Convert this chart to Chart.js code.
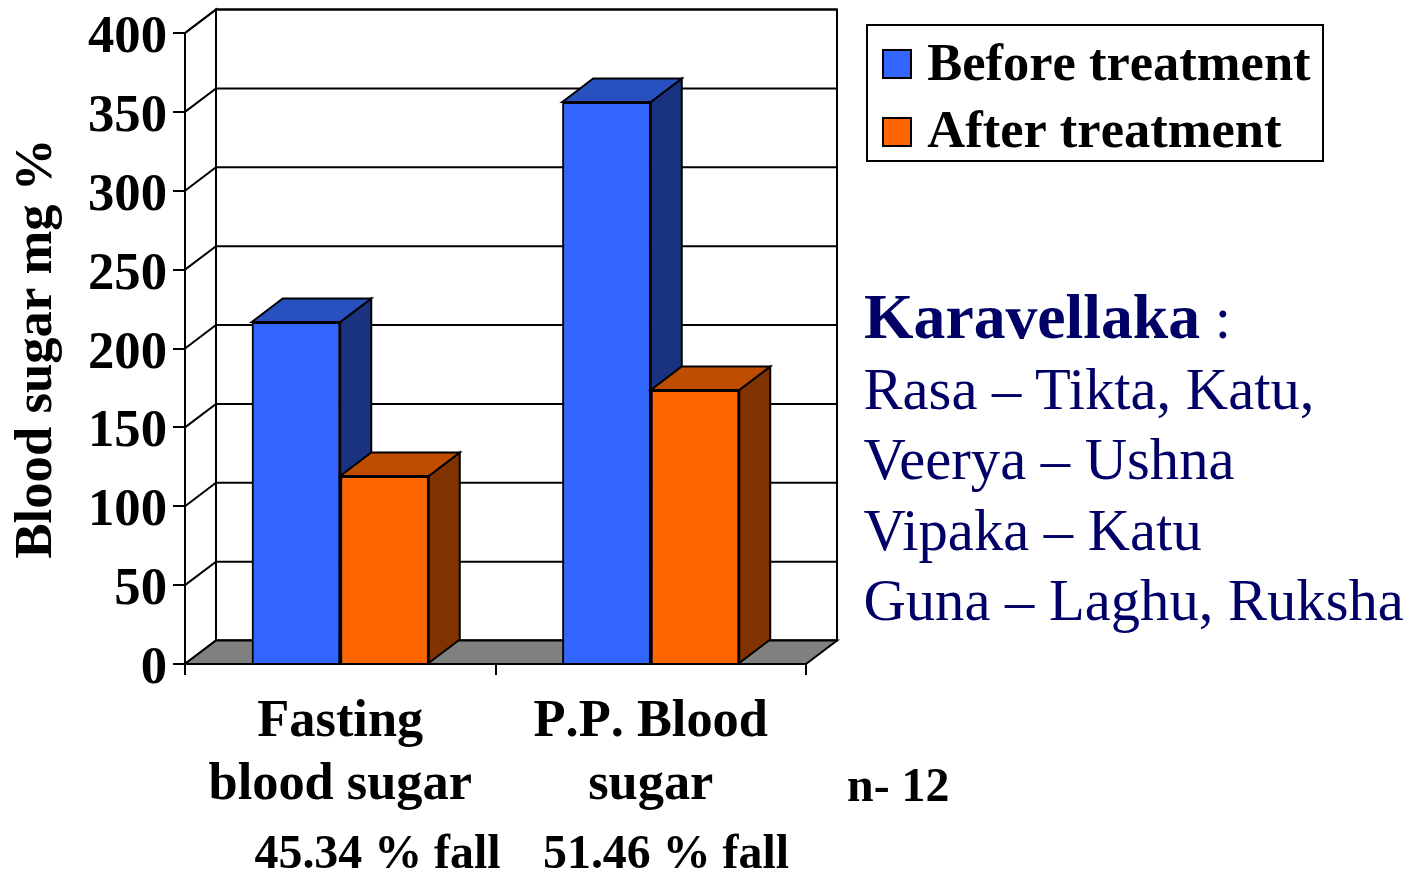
<!DOCTYPE html>
<html><head><meta charset="utf-8">
<style>
html,body{margin:0;padding:0;background:#fff;width:1414px;height:872px;overflow:hidden}
canvas{position:absolute;left:0;top:0}
.t{position:absolute;white-space:nowrap;font-family:"Liberation Serif",serif;line-height:1}
.b{font-weight:bold;color:#000;font-size:47.9px}
.n{color:#000066;font-size:58.6px}
</style>
<script src="https://cdn.jsdelivr.net/npm/chart.js@4"></script>
</head><body>
<canvas id="c" width="1414" height="872"></canvas>
<div class="t b" style="left:254.5px;top:828px">45.34 % fall</div>
<div class="t b" style="left:543px;top:828px">51.46 % fall</div>
<div class="t b" style="left:847px;top:761px">n- 12</div>
<div class="t n" style="left:864px;top:285px"><b style="font-size:63.7px">Karavellaka</b> :</div>
<div class="t n" style="left:863.5px;top:361px">Rasa – Tikta, Katu,</div>
<div class="t n" style="left:863.5px;top:431px">Veerya – Ushna</div>
<div class="t n" style="left:863.5px;top:501.5px">Vipaka – Katu</div>
<div class="t n" style="left:863.5px;top:572px">Guna – Laghu, Ruksha</div>
<script>
const categories = [["Fasting","blood sugar"],["P.P. Blood","sugar"]];
const beforeTreatment = [216.8,356.3];
const afterTreatment = [119.2,173.7];
const yTitle = "Blood sugar mg %";

const DX=31, DY=23.5, F='"Liberation Serif",serif', LW=2;
function poly(ctx,pts,fill){
  ctx.beginPath();pts.forEach((p,i)=>i?ctx.lineTo(p[0],p[1]):ctx.moveTo(p[0],p[1]));ctx.closePath();
  if(fill){ctx.fillStyle=fill;ctx.fill();}
  ctx.lineWidth=LW;ctx.strokeStyle='#000';ctx.stroke();
}
const tones=[{front:'#3366FF',top:'#2850BE',side:'#1A3380'},{front:'#FF6600',top:'#BF4D00',side:'#803300'}];
const room={id:'room',
  beforeDraw(chart){chart.ctx.fontKerning='none';},
  afterLayout(chart){
    const l=chart.legend;
    l.left=867;l.top=25;l.right=1323;l.bottom=400;
  },
  beforeDatasetsDraw(chart){
    const {ctx,scales:{x,y}}=chart;
    const L=x.left,R=x.right,T=y.getPixelForValue(400),B=y.getPixelForValue(0);
    ctx.save();
    poly(ctx,[[L+DX,T-DY],[R+DX,T-DY],[R+DX,B-DY],[L+DX,B-DY]],'#fff');
    poly(ctx,[[L,T],[L+DX,T-DY],[L+DX,B-DY],[L,B]],'#fff');
    y.ticks.forEach(t=>{
      const p=y.getPixelForValue(t.value);
      ctx.beginPath();ctx.moveTo(L,p);ctx.lineTo(L+DX,p-DY);ctx.lineTo(R+DX,p-DY);
      ctx.lineWidth=LW;ctx.strokeStyle='#000';ctx.stroke();
    });
    poly(ctx,[[L,B],[L+DX,B-DY],[R+DX,B-DY],[R,B]],'#808080');
    ctx.restore();
  },
  afterDatasetsDraw(chart){
    const {ctx}=chart;
    ctx.save();
    categories.forEach((_,i)=>{
      chart.data.datasets.forEach((d,di)=>{
        const el=chart.getDatasetMeta(di).data[i];
        const xl=el.x-el.width/2,xr=el.x+el.width/2,yt=el.y,yb=el.base;
        poly(ctx,[[xr,yt],[xr+DX,yt-DY],[xr+DX,yb-DY],[xr,yb]],tones[di].side);
        poly(ctx,[[xl,yt],[xl+DX,yt-DY],[xr+DX,yt-DY],[xr,yt]],tones[di].top);
        el.draw(ctx);
      });
    });
    ctx.restore();
  },
  afterDraw(chart){
    const ctx=chart.ctx;
    ctx.save();ctx.lineWidth=LW;ctx.strokeStyle='#000';
    ctx.strokeRect(867,25,456,136);
    tones.forEach((t,i)=>{
      ctx.fillStyle=t.front;
      ctx.fillRect(883,50+68*i,28,28);
      ctx.strokeRect(883,50+68*i,28,28);
    });
    ctx.restore();
  }
};
new Chart(document.getElementById('c'),{
  type:'bar',
  data:{labels:categories,datasets:[
    {label:'Before treatment',data:beforeTreatment,backgroundColor:tones[0].front,borderColor:'#000',borderWidth:LW},
    {label:'After treatment',data:afterTreatment,backgroundColor:tones[1].front,borderColor:'#000',borderWidth:LW}
  ]},
  plugins:[room],
  options:{
    responsive:false,animation:false,
    layout:{padding:{left:0,top:33,right:608,bottom:0}},
    datasets:{bar:{categoryPercentage:0.57,barPercentage:1}},
    plugins:{
      tooltip:{enabled:false},
      legend:{position:'chartArea',align:'start',
        labels:{boxWidth:19,boxHeight:19,padding:15,color:'#000',
          generateLabels(chart){
            return Chart.defaults.plugins.legend.labels.generateLabels(chart).map(it=>Object.assign(it,{fillStyle:'rgba(0,0,0,0)',strokeStyle:'rgba(0,0,0,0)',lineWidth:0}));
          },
          font:{family:F,weight:'bold',size:52.5}}}
    },
    scales:{
      x:{
        afterFit(s){s.height=208;},
        border:{color:'#000',width:LW},
        grid:{drawOnChartArea:false,color:'#000',lineWidth:LW,tickLength:11},
        ticks:{color:'#000',maxRotation:0,padding:16,font:{family:F,weight:'bold',size:52.4}}
      },
      y:{
        min:0,max:400,
        afterFit(s){s.width=185;s.paddingTop=0;s.paddingBottom=0;},
        border:{color:'#000',width:LW},
        grid:{drawOnChartArea:false,color:'#000',lineWidth:LW,tickLength:12},
        ticks:{stepSize:50,color:'#000',padding:6,labelOffset:5.5,font:{family:F,weight:'bold',size:52.7}},
        title:{display:true,text:yTitle,color:'#000',padding:{top:6,bottom:0},font:{family:F,weight:'bold',size:52.7}}
      }
    }
  }
});
</script>
</body></html>
